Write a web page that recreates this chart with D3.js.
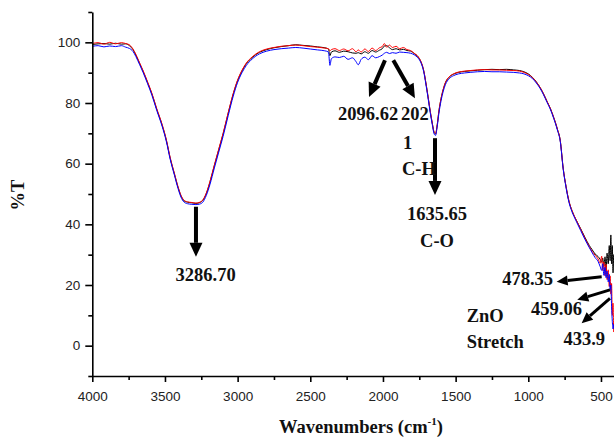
<!DOCTYPE html>
<html>
<head>
<meta charset="utf-8">
<script src="https://cdn.jsdelivr.net/npm/d3@7"></script>
<style>
  html, body { margin: 0; padding: 0; background: #fff; }
  svg { display: block; }
  .tick text { font-family: "Liberation Sans", Arial, sans-serif; font-size: 13.5px; fill: #222; }
  .axis path, .axis line { stroke: #000; }
  .note { font-family: "Liberation Serif", "Times New Roman", serif; font-weight: bold; font-size: 18.5px; fill: #111; }
</style>
</head>
<body>
<div id="chart"></div>
<script>
// FTIR spectra, wavenumber (cm-1) vs %T
const wavenumbers = [
  4000, 3960, 3920, 3880, 3840, 3800, 3770, 3745, 3720, 3700, 3675, 3650, 3620, 3590, 3557, 3520,
  3490, 3465, 3435, 3410, 3390, 3370, 3345, 3315, 3287, 3260, 3240, 3215, 3190, 3160, 3130, 3100,
  3065, 3030, 3000, 2970, 2940, 2900, 2850, 2800, 2750, 2700, 2650, 2600, 2550, 2500, 2450, 2400,
  2375, 2365, 2355, 2330, 2300, 2270, 2240, 2210, 2185, 2170, 2150, 2125, 2100, 2075, 2050, 2025,
  2005, 1990, 1975, 1955, 1935, 1910, 1885, 1860, 1835, 1810, 1785, 1760, 1740, 1720, 1705, 1690,
  1675, 1660, 1648, 1638, 1628, 1615, 1600, 1585, 1570, 1545, 1515, 1480, 1440, 1400, 1350, 1300,
  1250, 1200, 1150, 1100, 1060, 1030, 1000, 970, 945, 920, 895, 870, 850, 825, 800, 780,
  760, 740, 720, 700, 670, 640, 610, 580, 560, 540, 520, 505, 495, 488, 480, 472,
  465, 458, 450, 443, 437, 432, 427, 422, 417, 412, 405, 400
];

const redT = [
  99.6, 99.9, 99.4, 100.0, 99.5, 99.9, 99.6, 99.2, 97.8, 96.0, 93.3, 90.6, 87.0, 83.2, 78.2, 73.0,
  67.8, 62.2, 56.8, 52.4, 49.6, 48.0, 47.4, 47.2, 47.0, 47.3, 48.0, 50.4, 54.2, 59.6, 64.8, 70.0,
  76.8, 83.2, 87.6, 90.8, 93.2, 95.2, 96.9, 97.8, 98.3, 98.7, 98.9, 99.1, 98.9, 98.6, 98.4, 98.1,
  97.9, 97.2, 97.6, 97.9, 97.3, 97.8, 97.2, 97.9, 96.9, 97.5, 96.8, 97.8, 97.0, 98.1, 97.3, 98.2,
  98.6, 99.6, 98.4, 99.1, 98.3, 98.7, 97.9, 98.3, 97.6, 97.3, 96.4, 95.4, 93.8, 90.8, 86.8, 82.2,
  77.4, 73.2, 70.4, 69.9, 72.4, 77.4, 81.6, 84.6, 86.8, 88.6, 89.6, 90.2, 90.5, 90.7, 90.9, 91.0,
  90.9, 90.9, 90.8, 90.7, 90.5, 90.1, 89.4, 88.3, 86.9, 85.2, 83.0, 80.4, 78.4, 75.2, 71.4, 67.6,
  58.5, 52.4, 47.6, 44.6, 41.4, 38.4, 35.4, 32.6, 31.0, 29.8, 28.6, 27.2, 29.5, 24.8, 27.6, 23.0,
  26.8, 21.8, 25.0, 19.5, 23.0, 17.0, 20.5, 10.0, 14.0, 4.5, 9.0, 12.0
];

const blackT = [
  99.3, 99.5, 99.6, 99.4, 99.7, 99.4, 99.5, 98.9, 97.6, 95.8, 93.1, 90.4, 86.8, 83.0, 78.0, 72.8,
  67.6, 62.0, 56.6, 52.2, 49.4, 47.8, 47.3, 47.1, 46.9, 47.2, 47.9, 50.2, 54.0, 59.4, 64.6, 69.8,
  76.6, 83.0, 87.4, 90.6, 93.0, 95.0, 96.7, 97.6, 98.2, 98.6, 98.9, 99.2, 99.0, 98.8, 98.5, 98.2,
  97.8, 95.6, 96.8, 97.2, 96.7, 97.1, 96.9, 96.5, 96.4, 96.6, 96.2, 96.9, 96.4, 97.3, 96.8, 97.4,
  97.9, 98.8, 98.9, 98.2, 97.6, 97.9, 97.5, 97.7, 97.3, 97.1, 96.3, 95.3, 93.7, 90.7, 86.7, 82.1,
  77.3, 73.1, 70.3, 69.8, 72.3, 77.3, 81.5, 84.5, 86.7, 88.5, 89.5, 90.1, 90.4, 90.6, 90.8, 91.0,
  91.1, 91.0, 91.1, 90.9, 90.7, 90.3, 89.6, 88.4, 87.0, 85.2, 83.0, 80.4, 78.4, 75.2, 71.4, 67.6,
  58.5, 52.4, 47.6, 44.6, 41.4, 38.6, 35.7, 33.0, 31.6, 30.2, 29.4, 28.4, 27.5, 28.9, 26.2, 29.3,
  24.8, 30.5, 27.0, 33.0, 28.0, 36.5, 27.0, 33.0, 24.0, 30.0, 26.0, 28.0
];

const blueT = [
  98.7, 98.9, 98.5, 98.8, 98.6, 98.9, 98.4, 98.0, 97.0, 95.3, 92.7, 90.0, 86.4, 82.6, 77.6, 72.4,
  67.2, 61.6, 56.2, 51.8, 49.0, 47.4, 46.8, 46.6, 46.5, 46.7, 47.3, 49.6, 53.2, 58.6, 63.8, 69.0,
  75.8, 82.3, 86.8, 90.0, 92.4, 94.5, 96.2, 97.1, 97.6, 97.9, 98.1, 98.3, 98.1, 97.8, 97.5, 97.2,
  96.8, 92.4, 94.6, 95.2, 95.0, 95.4, 94.4, 94.9, 93.6, 92.6, 94.4, 95.1, 94.3, 95.6, 94.9, 95.3,
  95.8, 96.4, 96.7, 96.3, 96.6, 96.4, 96.8, 96.7, 96.6, 96.4, 95.9, 94.9, 93.4, 90.4, 86.3, 81.7,
  76.9, 72.7, 69.8, 69.3, 71.8, 76.6, 80.8, 83.9, 86.1, 88.0, 89.0, 89.6, 89.9, 90.1, 90.3, 90.4,
  90.3, 90.3, 90.2, 90.1, 89.9, 89.6, 89.0, 88.0, 86.6, 84.9, 82.7, 80.1, 78.1, 74.9, 71.1, 67.3,
  58.2, 52.0, 47.2, 44.2, 41.0, 38.0, 35.0, 32.3, 30.6, 29.0, 27.8, 26.0, 24.8, 27.0, 23.2, 25.8,
  22.4, 24.6, 21.0, 23.5, 18.5, 20.0, 13.0, 8.0, 5.5, 7.0, 4.8, 6.0
];

const xMajorTicks = [4000, 3500, 3000, 2500, 2000, 1500, 1000, 500];
const xMinorTicks = [3750, 3250, 2750, 2250, 1750, 1250, 750];
const yMajorTicks = [0, 20, 40, 60, 80, 100];
const yMinorTicks = [-10, 10, 30, 50, 70, 90, 110];

// annotations in data units: arrows [w1, T1, w2, T2] and text lines [text, w, T, anchor]
const arrows = [
  [3286.7, 45.8, 3286.7, 29.3, "big"],
  [1986, 94.1, 2096, 82.0, "big"],
  [1929, 94.1, 1780, 81.6, "big"],
  [1642, 68.4, 1642, 49.7, "big"],
  [495, 22.7, 805, 21.1, "small"],
  [438, 18.4, 663, 15.1, "small"],
  [438, 15.6, 633, 7.4, "small"]
];
const notes = [
  ["3286.70", 3220, 21.4, "middle"],
  ["2096.62", 2102, 74.4, "middle"],
  ["202", 1876, 74.4, "start"],
  ["1", 1862, 64.8, "start"],
  ["C-H", 1869, 56.3, "start"],
  ["1635.65", 1628, 41.4, "middle"],
  ["C-O", 1628, 32.5, "middle"],
  ["478.35", 830, 20.1, "end"],
  ["459.06", 631, 10.1, "end"],
  ["433.9", 472, 0.2, "end"],
  ["ZnO", 1424, 7.9, "start"],
  ["Stretch", 1424, -0.8, "start"]
];

const W = 614, H = 440;
const svg = d3.select("#chart").append("svg").attr("width", W).attr("height", H);

const x = d3.scaleLinear().domain([4000, 400]).range([92.3, 615.5]);
const y = d3.scaleLinear().domain([-10, 110]).range([376, 12]);

svg.append("defs").append("clipPath").attr("id", "plotclip")
  .append("rect").attr("x", 92.3).attr("y", 12).attr("width", 523.2).attr("height", 364);

// spectra
const series = [
  { vals: blackT, color: "#000000" },
  { vals: redT, color: "#ff0000" },
  { vals: blueT, color: "#0000ff" }
];
const line = d3.line()
  .x(d => x(d[0]))
  .y(d => y(d[1]))
  .curve(d3.curveMonotoneX);

const plot = svg.append("g").attr("clip-path", "url(#plotclip)");
series.forEach(s => {
  plot.append("path")
    .datum(wavenumbers.map((w, i) => [w, s.vals[i]]))
    .attr("fill", "none")
    .attr("stroke", s.color)
    .attr("stroke-width", 1)
    .attr("d", line);
});

// axes
const gx = svg.append("g").attr("class", "axis").attr("transform", "translate(0,376)");
gx.call(d3.axisBottom(x).tickValues(xMajorTicks).tickSize(6).tickSizeOuter(0).tickPadding(9).tickFormat(d3.format("d")));
svg.append("g").attr("class", "axis").attr("transform", "translate(0,376)")
  .call(d3.axisBottom(x).tickValues(xMinorTicks).tickSize(4).tickSizeOuter(0).tickFormat(""))
  .select(".domain").remove();

const gy = svg.append("g").attr("class", "axis").attr("transform", "translate(92.3,0)");
gy.call(d3.axisLeft(y).tickValues(yMajorTicks).tickSize(7).tickSizeOuter(0).tickPadding(5));
svg.append("g").attr("class", "axis").attr("transform", "translate(92.3,0)")
  .call(d3.axisLeft(y).tickValues(yMinorTicks).tickSize(4).tickSizeOuter(0).tickFormat(""))
  .select(".domain").remove();

svg.selectAll(".axis path, .axis line").attr("stroke-width", 1.6);

// arrows
function drawArrow(a) {
  const x1 = x(a[0]), y1 = y(a[1]), x2 = x(a[2]), y2 = y(a[3]);
  const big = a[4] === "big";
  const headL = big ? 14 : 11, headW = big ? 6.5 : 5, sw = big ? 4 : 3;
  const ang = Math.atan2(y2 - y1, x2 - x1);
  const bx = x2 - headL * Math.cos(ang), by = y2 - headL * Math.sin(ang);
  svg.append("line")
    .attr("x1", x1).attr("y1", y1).attr("x2", bx).attr("y2", by)
    .attr("stroke", "#000").attr("stroke-width", sw);
  const px = -Math.sin(ang) * headW, py = Math.cos(ang) * headW;
  svg.append("polygon")
    .attr("points", [[x2, y2], [bx + px, by + py], [bx - px, by - py]].map(p => p.join(",")).join(" "))
    .attr("fill", "#000");
}
arrows.forEach(drawArrow);

svg.selectAll(".notetext")
  .data(notes)
  .enter()
  .append("text")
  .attr("class", "note")
  .attr("x", d => x(d[1]))
  .attr("y", d => y(d[2]))
  .attr("text-anchor", d => d[3])
  .text(d => d[0]);

// axis titles
const xt = svg.append("text").attr("class", "note")
  .attr("x", 361).attr("y", 433).attr("text-anchor", "middle");
xt.append("tspan").text("Wavenumbers (cm");
xt.append("tspan").attr("font-size", "11px").attr("dy", -8).text("-1");
xt.append("tspan").attr("dy", 8).text(")");

svg.append("text").attr("class", "note")
  .attr("transform", "translate(24,195) rotate(-90)")
  .attr("text-anchor", "middle")
  .text("%T");
</script>
</body>
</html>
